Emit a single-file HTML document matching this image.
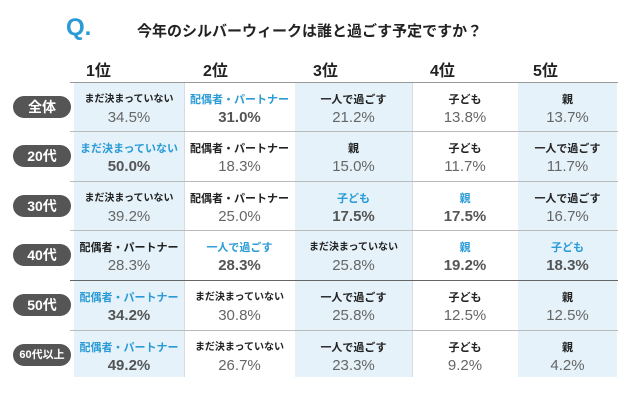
<!DOCTYPE html>
<html><head><meta charset="utf-8"><style>
body{margin:0;width:640px;height:404px;background:#fff;position:relative;overflow:hidden;font-family:"Liberation Sans","Noto Sans CJK JP",sans-serif}
.a{position:absolute}
.bg{position:absolute;top:82px;height:295px;background:#e5f2fa}
.h{position:absolute;top:57px;font-size:16px;font-weight:bold;color:#222}
.hl{position:absolute;left:70px;width:548px;height:1px;background:#999}
.pill{position:absolute;left:13px;width:58px;height:22px;border-radius:11px;background:#555;color:#fff;font-weight:bold;font-size:14px;text-align:center;line-height:22px}
.c{position:absolute;text-align:center}
.c .l{font-size:11px;font-weight:bold;color:#222;line-height:14px;white-space:nowrap}
.c .p{font-size:15px;color:#666;line-height:21px}
.c.b .l{color:#2a9bd6}
.c.b .p{font-weight:bold;color:#555}
</style></head><body>
<div class="a" style="left:66px;top:14px;font-size:24px;font-weight:bold;color:#2a9bd6">Q.</div>
<div class="a" style="left:137px;top:20px;font-size:15px;font-weight:bold;color:#222">今年のシルバーウィークは誰と過ごす予定ですか？</div>
<div class="bg" style="left:74px;width:110px"></div>
<div class="bg" style="left:295px;width:117px"></div>
<div class="bg" style="left:518px;width:99px"></div>
<div class="a" style="left:184px;top:82px;width:1px;height:295px;background:#d6dde2"></div>
<div class="a" style="left:412px;top:82px;width:1px;height:295px;background:#d6dde2"></div>
<div class="h" style="left:86px">1位</div>
<div class="h" style="left:203px">2位</div>
<div class="h" style="left:313px">3位</div>
<div class="h" style="left:430px">4位</div>
<div class="h" style="left:533px">5位</div>
<div class="hl" style="top:82px"></div>
<div class="hl" style="top:131px;background:#bbb"></div>
<div class="hl" style="top:181px;background:#bbb"></div>
<div class="hl" style="top:230px;background:#bbb"></div>
<div class="hl" style="top:280px;background:#666"></div>
<div class="hl" style="top:330px;background:#bbb"></div>
<div id="t"></div>
<script>
var cols=[[74,110],[184,111],[295,117],[412,106],[518,99]];
var rows=[82,131,181,230,280,330];
var names=["全体","20代","30代","40代","50代","60代以上"];
var d=[
[["まだ決まっていない","34.5%"],["配偶者・パートナー","31.0%",1],["一人で過ごす","21.2%"],["子ども","13.8%"],["親","13.7%"]],
[["まだ決まっていない","50.0%",1],["配偶者・パートナー","18.3%"],["親","15.0%"],["子ども","11.7%"],["一人で過ごす","11.7%"]],
[["まだ決まっていない","39.2%"],["配偶者・パートナー","25.0%"],["子ども","17.5%",1],["親","17.5%",1],["一人で過ごす","16.7%"]],
[["配偶者・パートナー","28.3%"],["一人で過ごす","28.3%",1],["まだ決まっていない","25.8%"],["親","19.2%",1],["子ども","18.3%",1]],
[["配偶者・パートナー","34.2%",1],["まだ決まっていない","30.8%"],["一人で過ごす","25.8%"],["子ども","12.5%"],["親","12.5%"]],
[["配偶者・パートナー","49.2%",1],["まだ決まっていない","26.7%"],["一人で過ごす","23.3%"],["子ども","9.2%"],["親","4.2%"]]];
var h="";
for(var r=0;r<6;r++){var y=rows[r];
var fs=r==5?"11px":"14px";
h+='<div class="pill" style="top:'+(y+14)+'px;font-size:'+fs+'">'+names[r]+'</div>';
for(var c=0;c<5;c++){var e=d[r][c];var sz=(e[0]=="まだ決まっていない"&&!e[2])?"font-size:10px;":"";
h+='<div class="c'+(e[2]?' b':'')+'" style="left:'+cols[c][0]+'px;width:'+cols[c][1]+'px;top:'+(y+11)+'px"><div class="l" style="'+sz+'">'+e[0]+'</div><div class="p">'+e[1]+'</div></div>';}}
document.getElementById("t").innerHTML=h;
</script>
</body></html>
